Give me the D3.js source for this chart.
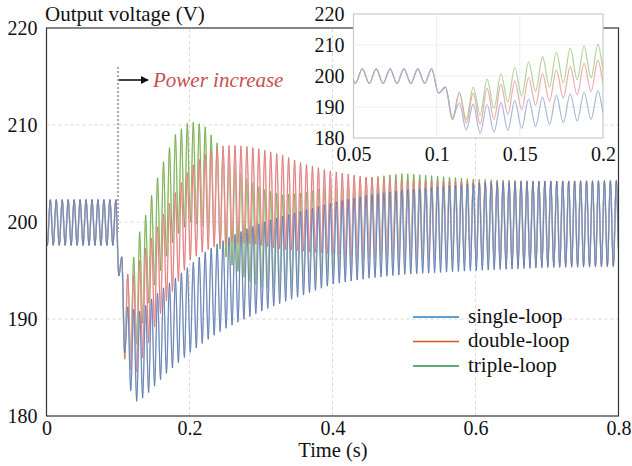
<!DOCTYPE html>
<html>
<head>
<meta charset="utf-8">
<script src="https://cdn.jsdelivr.net/npm/d3@7"></script>
<style>
  body { margin: 0; background: #fff; }
  svg { display: block; }
</style>
</head>
<body>
<svg width="632" height="466"></svg>
<script>
// envelope of the 120 Hz ripple (peaks = upper, troughs = lower)
var times = [0, 0.098, 0.1012, 0.1053, 0.1095, 0.1137, 0.1178, 0.122, 0.1262, 0.1303, 0.14, 0.15, 0.165, 0.18,
             0.2, 0.22, 0.24, 0.26, 0.28, 0.3, 0.33, 0.36, 0.4, 0.45, 0.5, 0.6, 0.7, 0.8];
var singleUpper = [202.3, 202.3, 199, 196.4, 194, 191.2, 191, 191, 190.8, 190.8, 191.5, 192.3, 193.3, 194.2,
                   195.5, 196.8, 197.8, 198.6, 199.3, 199.9, 200.6, 201.2, 202, 202.8, 203.3, 204, 204.2, 204.3];
var singleLower = [197.6, 197.6, 194.4, 192, 186.5, 184, 182.6, 182, 181.5, 181.6, 182.2, 183, 184.2, 185.2,
                   186.5, 187.6, 188.6, 189.4, 190.1, 190.8, 191.7, 192.5, 193.6, 194.2, 194.6, 195, 195.3, 195.4];
var doubleUpper = [202.3, 202.3, 199, 196.4, 195.5, 194.6, 194.5, 194.5, 195, 196, 197.5, 198.7, 201, 203,
                   205.5, 206.9, 207.8, 207.9, 207.8, 207.5, 206.9, 206, 205.2, 204.6, 204.3, 204.2, 204.2, 204.2];
var doubleLower = [197.6, 197.6, 194.4, 192, 186, 185.3, 184.8, 184.6, 184.5, 185.3, 187, 189, 191.5, 193.3,
                   196, 197, 197.6, 197.8, 197.8, 197.6, 197.2, 197, 196.7, 196.3, 196, 195.7, 195.5, 195.5];
var tripleUpper = [202.3, 202.3, 199, 196.4, 195.5, 194.6, 195.5, 196.4, 197.7, 199, 201, 203.5, 206.5, 209,
                   210.4, 210, 208, 206, 204.5, 203.5, 202.8, 203, 203.8, 204.6, 205, 204.4, 204.2, 204.2];
var tripleLower = [197.6, 197.6, 194.4, 192, 185.8, 185.9, 186, 186.7, 187.4, 188.5, 191, 193.3, 196, 198.5,
                   200, 199.5, 197.5, 195.5, 194, 193.3, 193, 193.5, 194.8, 196.2, 196.5, 196, 195.6, 195.5];

var seriesNames = ['single-loop', 'double-loop', 'triple-loop'];
var xTicks = [0, 0.2, 0.4, 0.6, 0.8];
var yTicks = [180, 190, 200, 210, 220];
var insetXTicks = [0.05, 0.1, 0.15, 0.2];
var insetYTicks = [180, 190, 200, 210, 220];

var ripplePeriod = 1 / 120;
var ripplePhase = 0.0053;

var svg = d3.select('svg');

// main plot area
var x = d3.scaleLinear().domain([0, 0.8]).range([46.5, 618.5]);
var y = d3.scaleLinear().domain([180, 220]).range([416, 28]);

// ripple vertices: alternate peak / trough, value from the envelope
function ripple(upper, lower) {
  var up = d3.scaleLinear().domain(times).range(upper).clamp(true);
  var lo = d3.scaleLinear().domain(times).range(lower).clamp(true);
  var pts = [];
  for (var n = -1; ; n++) {
    var tp = ripplePhase + n * ripplePeriod;
    var tt = tp + ripplePeriod / 2;
    if (tp > 0.81) break;
    pts.push([tp, up(tp)]);
    pts.push([tt, lo(tt)]);
  }
  return pts;
}

var series = [
  { name: 'triple-loop', data: ripple(tripleUpper, tripleLower), dark: '#5e9f33', light: '#c6e0ad', inset: '#a9cf8c', legend: '#2b8f49' },
  { name: 'double-loop', data: ripple(doubleUpper, doubleLower), dark: '#dd6466', light: '#f3c3c3', inset: '#e9a2a4', legend: '#d6561c' },
  { name: 'single-loop', data: ripple(singleUpper, singleLower), dark: '#4a69a6', light: '#b7c6dc', inset: '#9fb0d2', legend: '#2f7dc0' }
];

// grid
var grid = svg.append('g').attr('stroke', '#d8d8d8').attr('stroke-dasharray', '3,3').attr('stroke-width', 1);
[190, 200, 210].forEach(function (v) {
  grid.append('line').attr('x1', x(0)).attr('x2', x(0.8)).attr('y1', y(v)).attr('y2', y(v));
});
[0.2, 0.4, 0.6].forEach(function (v) {
  grid.append('line').attr('x1', x(v)).attr('x2', x(v)).attr('y1', y(180)).attr('y2', y(220));
});

svg.append('clipPath').attr('id', 'clipMain').append('rect')
  .attr('x', x(0)).attr('y', y(220)).attr('width', x(0.8) - x(0)).attr('height', y(180) - y(220));

// power increase marker
svg.append('line')
  .attr('x1', x(0.1)).attr('x2', x(0.1)).attr('y1', 67).attr('y2', y(199))
  .attr('stroke', '#8a8a8a').attr('stroke-width', 1.5).attr('stroke-dasharray', '2,2');

var lineMain = d3.line().x(function (d) { return x(d[0]); }).y(function (d) { return y(d[1]); })
  .curve(d3.curveMonotoneX);

var plot = svg.append('g').attr('clip-path', 'url(#clipMain)');
series.forEach(function (s) {
  plot.append('path').attr('d', lineMain(s.data)).attr('fill', 'none')
    .attr('stroke', s.light).attr('stroke-width', 1.5);
  plot.append('path').attr('d', lineMain(s.data)).attr('fill', 'none')
    .attr('stroke', s.dark).attr('stroke-width', 0.7);
});

// arrow + label
svg.append('defs').append('marker').attr('id', 'arrowHead')
  .attr('viewBox', '0 0 10 10').attr('refX', 9).attr('refY', 5)
  .attr('markerWidth', 8).attr('markerHeight', 8).attr('markerUnits', 'userSpaceOnUse')
  .attr('orient', 'auto')
  .append('path').attr('d', 'M0,0 L10,5 L0,10 Z').attr('fill', '#111');
svg.append('line').attr('x1', 119).attr('x2', 148).attr('y1', 80).attr('y2', 80)
  .attr('stroke', '#111').attr('stroke-width', 1.6)
  .attr('marker-end', 'url(#arrowHead)');
svg.append('text').attr('x', 153).attr('y', 87)
  .attr('font-size', 21).attr('font-style', 'italic').attr('fill', '#c9504f')
  .text('Power increase');

// frame + axes
svg.append('rect').attr('x', x(0)).attr('y', y(220)).attr('width', x(0.8) - x(0)).attr('height', y(180) - y(220))
  .attr('fill', 'none').attr('stroke', '#333').attr('stroke-width', 1.2);

var xAxis = svg.append('g').attr('transform', 'translate(0,' + y(180) + ')')
  .call(d3.axisBottom(x).tickValues(xTicks).tickSize(0).tickPadding(5).tickFormat(d3.format('')));
var yAxis = svg.append('g').attr('transform', 'translate(' + x(0) + ',0)')
  .call(d3.axisLeft(y).tickValues(yTicks).tickSize(0).tickPadding(9));
[xAxis, yAxis].forEach(function (a) {
  a.select('.domain').remove();
  a.selectAll('text').attr('font-size', 20).attr('fill', '#111');
});

svg.append('text').attr('x', 45).attr('y', 21).attr('font-size', 21).attr('fill', '#111')
  .text('Output voltage (V)');
svg.append('text').attr('x', 333).attr('y', 457).attr('text-anchor', 'middle')
  .attr('font-size', 20.5).attr('fill', '#111').text('Time (s)');

// legend
var legend = svg.append('g');
seriesNames.forEach(function (name, i) {
  var s = series.filter(function (d) { return d.name === name; })[0];
  var ly = 317 + i * 24.5;
  legend.append('line').attr('x1', 413).attr('x2', 459).attr('y1', ly).attr('y2', ly)
    .attr('stroke', s.legend).attr('stroke-width', 1.6);
  legend.append('text').attr('x', 468).attr('y', ly + 5.5).attr('font-size', 21).attr('fill', '#111').text(name);
});

// inset
var xi = d3.scaleLinear().domain([0.05, 0.2]).range([353.5, 603]);
var yi = d3.scaleLinear().domain([180, 220]).range([138, 14]);

svg.append('rect').attr('x', xi(0.05)).attr('y', yi(220)).attr('width', xi(0.2) - xi(0.05)).attr('height', yi(180) - yi(220))
  .attr('fill', '#fff').attr('stroke', '#c8c8c8').attr('stroke-width', 1.2);
var igrid = svg.append('g').attr('stroke', '#eeeeee').attr('stroke-width', 1);
[0.1, 0.15].forEach(function (v) {
  igrid.append('line').attr('x1', xi(v)).attr('x2', xi(v)).attr('y1', yi(180)).attr('y2', yi(220));
});
[190, 200, 210].forEach(function (v) {
  igrid.append('line').attr('x1', xi(0.05)).attr('x2', xi(0.2)).attr('y1', yi(v)).attr('y2', yi(v));
});

svg.append('clipPath').attr('id', 'clipInset').append('rect')
  .attr('x', xi(0.05)).attr('y', yi(220)).attr('width', xi(0.2) - xi(0.05)).attr('height', yi(180) - yi(220));

var lineInset = d3.line().x(function (d) { return xi(d[0]); }).y(function (d) { return yi(d[1]); })
  .curve(d3.curveMonotoneX);
var iplot = svg.append('g').attr('clip-path', 'url(#clipInset)');
series.forEach(function (s) {
  iplot.append('path').attr('d', lineInset(s.data.filter(function (d) { return d[0] > 0.03 && d[0] < 0.22; })))
    .attr('fill', 'none').attr('stroke', s.inset).attr('stroke-width', 1.2).attr('opacity', 0.9);
});

var ixAxis = svg.append('g').attr('transform', 'translate(0,' + yi(180) + ')')
  .call(d3.axisBottom(xi).tickValues(insetXTicks).tickSize(0).tickPadding(9).tickFormat(d3.format('')));
var iyAxis = svg.append('g').attr('transform', 'translate(' + (xi(0.05) - 1) + ',0)')
  .call(d3.axisLeft(yi).tickValues(insetYTicks).tickSize(0).tickPadding(8));
[ixAxis, iyAxis].forEach(function (a) {
  a.select('.domain').remove();
  a.selectAll('text').attr('font-size', 20).attr('fill', '#111');
});

// every text in Times-like serif, set on the element itself
svg.selectAll('text').attr('font-family', 'Liberation Serif');
</script>
</body>
</html>
